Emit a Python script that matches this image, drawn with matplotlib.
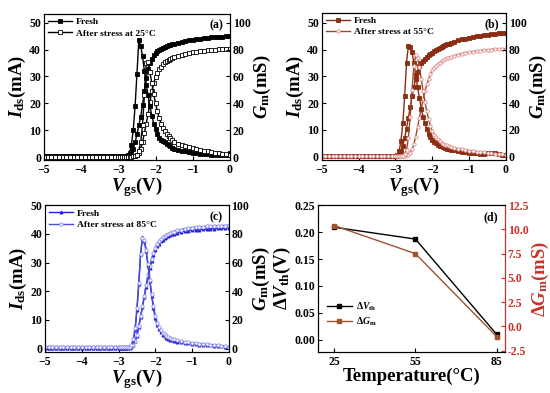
import numpy as np
import matplotlib
matplotlib.use('Agg')
import matplotlib.pyplot as plt
from matplotlib.ticker import MultipleLocator, FormatStrFormatter

plt.rcParams['font.family'] = 'serif'
plt.rcParams['font.serif'] = ['Liberation Serif', 'DejaVu Serif']
plt.rcParams['font.weight'] = 'bold'
plt.rcParams['axes.labelweight'] = 'bold'
plt.rcParams['mathtext.fontset'] = 'custom'
plt.rcParams['mathtext.rm'] = 'Liberation Serif:bold'
plt.rcParams['mathtext.it'] = 'Liberation Serif:italic:bold'
plt.rcParams['mathtext.bf'] = 'Liberation Serif:bold'
plt.rcParams['axes.unicode_minus'] = True

#%% data ---------------------------------------------------------------
# gate sweep (V)
vgs = [-5.0, -4.9, -4.8, -4.7, -4.6, -4.5, -4.4, -4.3, -4.2, -4.1,
       -4.0, -3.9, -3.8, -3.7, -3.6, -3.5, -3.4, -3.3, -3.2, -3.1,
       -3.0, -2.95, -2.9, -2.85, -2.8, -2.75, -2.7, -2.65, -2.6, -2.55,
       -2.5, -2.45, -2.4, -2.35, -2.3, -2.25, -2.2, -2.15, -2.1, -2.05,
       -2.0, -1.95, -1.9, -1.85, -1.8, -1.75, -1.7, -1.65, -1.6, -1.55,
       -1.5, -1.4, -1.3, -1.2, -1.1, -1.0, -0.9, -0.8, -0.7, -0.6,
       -0.5, -0.4, -0.3, -0.2, -0.1, 0.0]

# (a) 25 C
ids_fresh_25 = [0.3] * 20 + [
    0.3, 0.3, 0.3, 0.3, 0.4, 0.6, 1.0, 1.8, 3.2, 5.5,
    8.5, 11.8, 15.0, 19.5, 24.5, 29.5, 32.8, 35.0, 36.6, 37.8,
    38.7, 39.4, 39.9, 40.3, 40.7, 41.0, 41.3, 41.6, 41.8, 42.0,
    42.2, 42.6, 42.9, 43.2, 43.5, 43.7, 43.9, 44.1, 44.3, 44.4,
    44.5, 44.6, 44.7, 44.8, 44.9, 45.0]
gm_fresh_25 = [0.6] * 20 + [
    0.6, 0.6, 0.7, 0.8, 1.0, 1.5, 3.0, 9.0, 20.0, 38.0,
    62.0, 87.0, 83.0, 75.0, 64.0, 54.0, 46.0, 38.0, 31.0, 25.0,
    21.0, 17.5, 14.5, 13.0, 12.0, 11.0, 10.0, 9.0, 8.0, 7.2,
    6.5, 5.6, 4.9, 4.3, 3.8, 3.3, 2.9, 2.6, 2.3, 2.1,
    1.9, 1.7, 1.6, 1.5, 1.6, 3.0]
ids_stress_25 = [0.2] * 20 + [
    0.2, 0.2, 0.2, 0.2, 0.2, 0.2, 0.2, 0.3, 0.3, 0.4,
    0.7, 1.5, 3.0, 5.5, 9.0, 12.5, 16.0, 20.5, 24.5, 27.5,
    29.8, 31.4, 32.7, 33.7, 34.5, 35.2, 35.7, 36.1, 36.5, 36.8,
    37.1, 37.6, 38.0, 38.4, 38.7, 39.0, 39.2, 39.4, 39.6, 39.8,
    39.9, 40.0, 40.1, 40.2, 40.2, 40.3]
gm_stress_25 = [0.4] * 20 + [
    0.4, 0.4, 0.4, 0.4, 0.4, 0.4, 0.5, 0.5, 0.6, 1.0,
    2.0, 5.0, 11.0, 24.0, 46.0, 70.0, 71.0, 63.0, 55.0, 47.0,
    40.0, 34.0, 29.0, 25.0, 22.0, 19.5, 17.5, 15.5, 14.0, 12.5,
    11.3, 10.0, 9.0, 8.2, 7.4, 6.7, 6.1, 5.5, 5.0, 4.5,
    4.0, 3.5, 3.0, 2.6, 2.2, 1.8]

# (b) 55 C
ids_fresh_55 = [0.3] * 20 + [
    0.3, 0.4, 0.8, 2.0, 4.0, 7.0, 10.5, 14.5, 18.5, 22.5,
    26.0, 29.0, 31.8, 33.8, 35.0, 35.8, 36.5, 37.2, 37.8, 38.4,
    38.9, 39.4, 39.9, 40.3, 40.7, 41.0, 41.3, 41.6, 41.9, 42.2,
    42.5, 43.0, 43.4, 43.8, 44.1, 44.4, 44.7, 45.0, 45.2, 45.4,
    45.6, 45.8, 45.9, 46.0, 46.1, 46.2]
gm_fresh_55 = [0.6] * 20 + [
    0.6, 1.2, 4.0, 12.0, 25.0, 45.0, 70.0, 83.0, 82.0, 78.0,
    70.0, 61.0, 52.0, 44.0, 36.0, 30.0, 25.0, 20.5, 17.0, 14.5,
    12.5, 11.0, 10.0, 9.0, 8.3, 7.7, 7.1, 6.6, 6.1, 5.7,
    5.3, 4.7, 4.2, 3.8, 3.4, 3.1, 2.8, 2.6, 2.4, 2.3,
    2.5, 2.8, 3.0, 2.2, 1.5, 1.2]
ids_stress_55 = [0.2] * 20 + [
    0.2, 0.2, 0.2, 0.2, 0.3, 0.3, 0.5, 0.8, 1.5, 2.8,
    4.8, 7.5, 11.0, 14.5, 18.0, 21.5, 24.5, 27.0, 29.0, 30.8,
    32.2, 33.3, 34.0, 34.6, 35.1, 35.6, 36.0, 36.4, 36.7, 37.0,
    37.2, 37.7, 38.1, 38.5, 38.8, 39.0, 39.2, 39.4, 39.6, 39.8,
    39.9, 40.0, 40.1, 40.1, 40.2, 40.2]
gm_stress_55 = [0.4] * 20 + [
    0.4, 0.4, 0.5, 0.6, 0.9, 2.0, 5.0, 14.0, 30.0, 50.0,
    68.0, 76.0, 74.0, 67.0, 58.0, 49.0, 41.0, 34.0, 28.0, 23.0,
    19.0, 16.5, 14.5, 13.0, 11.7, 10.6, 9.7, 9.0, 8.4, 7.9,
    7.4, 6.6, 6.0, 5.5, 5.0, 4.6, 4.2, 3.9, 3.6, 3.3,
    3.0, 2.7, 2.4, 2.1, 1.8, 1.5]

# (c) 85 C
ids_fresh_85 = [0.3] * 20 + [
    0.3, 0.3, 0.3, 0.3, 0.3, 0.3, 0.3, 0.5, 1.2, 2.5,
    4.5, 7.5, 11.0, 14.5, 18.0, 21.5, 25.0, 28.0, 30.5, 32.6,
    34.3, 35.6, 36.6, 37.4, 38.0, 38.5, 38.9, 39.2, 39.5, 39.8,
    40.0, 40.4, 40.7, 40.9, 41.1, 41.3, 41.4, 41.5, 41.6, 41.7,
    41.8, 41.8, 41.9, 41.9, 42.0, 42.0]
gm_fresh_85 = [0.6] * 20 + [
    0.6, 0.6, 0.6, 0.6, 0.7, 0.8, 1.0, 2.0, 6.0, 13.0,
    27.0, 45.0, 66.0, 78.0, 75.0, 68.0, 58.0, 47.0, 37.0, 28.0,
    21.0, 16.5, 13.5, 11.3, 9.7, 8.5, 7.6, 6.9, 6.3, 5.8,
    5.4, 4.8, 4.3, 3.9, 3.6, 3.3, 3.0, 2.8, 2.6, 2.4,
    2.2, 2.0, 1.8, 1.6, 1.3, 1.0]
ids_stress_85 = [0.6] * 20 + [
    0.6, 0.6, 0.6, 0.6, 0.6, 0.6, 0.6, 0.8, 1.4, 2.7,
    4.8, 7.8, 11.3, 14.8, 18.4, 22.0, 25.6, 28.7, 31.3, 33.4,
    35.1, 36.4, 37.4, 38.2, 38.8, 39.3, 39.7, 40.0, 40.3, 40.6,
    40.8, 41.2, 41.5, 41.8, 42.0, 42.2, 42.3, 42.4, 42.5, 42.6,
    42.7, 42.8, 42.8, 42.9, 42.9, 43.0]
gm_stress_85 = [1.0] * 20 + [
    1.0, 1.0, 1.0, 1.0, 1.0, 1.1, 1.3, 2.5, 6.5, 14.0,
    28.0, 46.0, 66.0, 77.0, 76.0, 69.0, 59.0, 48.0, 38.0, 29.5,
    22.5, 18.0, 15.0, 12.8, 11.2, 10.0, 9.0, 8.2, 7.5, 7.0,
    6.5, 5.8, 5.2, 4.7, 4.3, 4.0, 3.7, 3.4, 3.2, 3.0,
    2.8, 2.6, 2.4, 2.1, 1.8, 1.4]

# (d) shift vs temperature
temps = [25, 55, 85]
d_vth = [0.209, 0.187, 0.010]
d_gm = [10.4, 7.5, -1.05]

#%% figure --------------------------------------------------------------
fig = plt.figure(figsize=(5.5, 3.93), dpi=100)

panels = [
    # label, rect, left ylim, temp, series, style
    ('(a)', [0.080, 0.593, 0.338, 0.372], (-1.0, 53.3), '25',
     ids_fresh_25, gm_fresh_25, ids_stress_25, gm_stress_25,
     dict(c1='black', m1='s', c2='black', m2='s', e2='black')),
    ('(b)', [0.585, 0.593, 0.335, 0.375], (-1.2, 53.8), '55',
     ids_fresh_55, gm_fresh_55, ids_stress_55, gm_stress_55,
     dict(c1='#8a2d12', m1='s', c2='#9a4a2a', m2='o', e2='#e08a8a')),
    ('(c)', [0.082, 0.105, 0.334, 0.373], (-1.1, 50.0), '85',
     ids_fresh_85, gm_fresh_85, ids_stress_85, gm_stress_85,
     dict(c1='#1f1fd0', m1='^', c2='#4a4ae0', m2='o', e2='#8c8cf0')),
]

for lab, rect, ylim, temp, idf, gmf, ids_, gms_, st in panels:
    ax = fig.add_axes(rect)
    ax2 = ax.twinx()
    kw1 = dict(color=st['c1'], marker=st['m1'], ms=2.2, lw=1.0,
               mfc=st['c1'], mec=st['c1'], mew=0.6)
    kw2 = dict(color=st['c2'], marker=st['m2'], ms=2.4, lw=1.0,
               mfc='white', mec=st['e2'], mew=0.6)
    l1, = ax.plot(vgs, idf, **kw1)
    l2, = ax.plot(vgs, ids_, **kw2)
    ax2.plot(vgs, gmf, **kw1)
    ax2.plot(vgs, gms_, **kw2)

    ax.set_xlim(-5, 0)
    ax.set_ylim(*ylim)
    ax2.set_ylim(ylim[0] * 2, ylim[1] * 2)
    ax.xaxis.set_major_locator(MultipleLocator(1))
    ax.yaxis.set_major_locator(MultipleLocator(10))
    ax2.yaxis.set_major_locator(MultipleLocator(20))
    ax.tick_params(axis='x', pad=3)
    for a in (ax, ax2):
        a.tick_params(direction='in', labelsize=8.5, length=3, width=0.8)
        a.tick_params(axis='y', pad=2)
        for t in a.get_xticklabels() + a.get_yticklabels():
            t.set_fontweight('bold')
    for s in ax.spines.values():
        s.set_linewidth(0.8)

    ax.set_xlabel(r'$\mathit{V}_{\mathrm{gs}}$(V)', fontsize=13.5, labelpad=-0.5)
    ax.set_ylabel(r'$\mathit{I}_{\mathrm{ds}}$(mA)', fontsize=13.5, labelpad=1)
    ax2.set_ylabel(r'$\mathit{G}_{\mathrm{m}}$(mS)', fontsize=13.5, labelpad=1)
    ax.text(0.965, 0.92, lab, transform=ax.transAxes, ha='right', va='center',
            fontsize=8.5, fontweight='bold')
    ax.legend([l1, l2], ['Fresh', 'After stress at %s°C' % temp],
              loc='upper left', frameon=False,
              prop=dict(size=6.8, weight='bold'),
              handlelength=2.6, handletextpad=0.4, labelspacing=0.3,
              borderaxespad=0.2, borderpad=0.2)

# (d)
gm_col = '#a0522d'
ax_red = '#c8322a'
ax = fig.add_axes([0.578, 0.105, 0.340, 0.373])
ax2 = ax.twinx()
h1, = ax.plot(temps, d_vth, color='black', marker='s', ms=3, lw=1.0)
h2, = ax2.plot(temps, d_gm, color=gm_col, marker='s', ms=3, lw=1.0)
ax.set_xlim(19, 88)
ax.set_ylim(-0.022, 0.25)
ax2.set_ylim(-2.6, 12.5)
ax.set_xticks(temps)
ax.yaxis.set_major_locator(MultipleLocator(0.05))
ax.yaxis.set_major_formatter(FormatStrFormatter('%.2f'))
ax2.yaxis.set_major_locator(MultipleLocator(2.5))
ax2.yaxis.set_major_formatter(FormatStrFormatter('%.1f'))
ax.tick_params(direction='in', labelsize=8.5, length=3, width=0.8)
ax.tick_params(axis='x', pad=3)
ax.tick_params(axis='y', pad=2)
ax2.tick_params(direction='in', labelsize=8.5, length=3, width=0.8, pad=2,
                colors=ax_red)
for a in (ax, ax2):
    for t in a.get_xticklabels() + a.get_yticklabels():
        t.set_fontweight('bold')
ax2.spines['right'].set_color(ax_red)
ax.set_xlabel('Temperature(°C)', fontsize=13.5, labelpad=0)
ax.set_ylabel(r'$\mathit{ΔV}_{\mathrm{th}}$(V)', fontsize=13.5, labelpad=1)
ax2.set_ylabel(r'$\mathit{ΔG}_{\mathrm{m}}$(mS)', fontsize=13.5, labelpad=1,
               color=ax_red)
ax.text(0.965, 0.92, '(d)', transform=ax.transAxes, ha='right', va='center',
        fontsize=8.5, fontweight='bold')
ax.legend([h1, h2], [r'$\mathit{ΔV}_{\mathrm{th}}$', r'$\mathit{ΔG}_{\mathrm{m}}$'],
          loc='lower left', bbox_to_anchor=(0.0, 0.1), frameon=False,
          prop=dict(size=7, weight='bold'),
          handlelength=2.6, handletextpad=0.4, labelspacing=0.3)

fig.savefig('out.png', dpi=100)
